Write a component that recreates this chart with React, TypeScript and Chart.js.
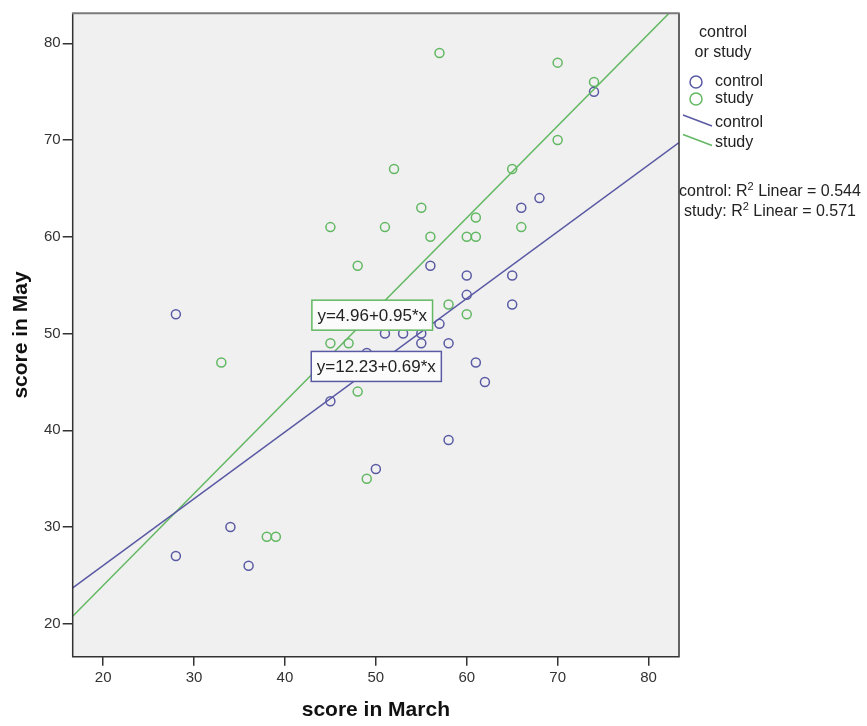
import React, { useEffect, useRef } from "react";
import { Chart, registerables } from "chart.js";

Chart.register(...registerables);

// ---- data ----
const groups = ["control", "study"];
const legendTitle = ["control", "or study"];
const controlMarch = [28, 28, 34, 36, 45, 49, 50, 51, 53, 55, 55, 56, 57, 58, 58, 60, 60, 61, 62, 65, 65, 66, 68, 74];
const controlMay = [52, 27, 30, 26, 43, 48, 36, 50, 50, 50, 49, 57, 51, 49, 39, 56, 54, 47, 45, 56, 53, 63, 64, 75];
const studyMarch = [33, 38, 39, 45, 45, 47, 48, 48, 49, 51, 52, 55, 56, 57, 58, 60, 60, 61, 61, 65, 66, 70, 70, 74];
const studyMay = [47, 29, 29, 61, 49, 49, 57, 44, 35, 61, 67, 63, 60, 79, 53, 60, 52, 62, 60, 67, 61, 78, 70, 76];
const intercepts = [12.23, 4.96];
const slopes = [0.69, 0.95];
const rSquared = ["0.544", "0.571"];
const xTicks = [20, 30, 40, 50, 60, 70, 80];
const yTicks = [20, 30, 40, 50, 60, 70, 80];
const xRange = [16.65, 83.35];
const yRange = [16.6, 83.1];
const xTitle = "score in March";
const yTitle = "score in May";

const BLUE = "#5a5aa4";
const GREEN = "#62b862";
const colors = [BLUE, GREEN];
const FONT = '"Liberation Sans", Arial, sans-serif';

const fitLine = (i: number) =>
  xRange.map((x) => ({ x, y: intercepts[i] + slopes[i] * x }));

const decor = {
  id: "decor",
  beforeDraw(chart: any) {
    const { ctx, chartArea: a } = chart;
    ctx.save();
    ctx.fillStyle = "#f0f0f0";
    ctx.fillRect(a.left, a.top, a.right - a.left, a.bottom - a.top);
    ctx.restore();
  },
  afterDatasetsDraw(chart: any) {
    const { ctx, chartArea: a, scales } = chart;
    const xs = scales.x;
    const ys = scales.y;
    ctx.save();
    // equation boxes
    const anchors = [
      { x: 50.05, y: 46.6 },
      { x: 49.6, y: 51.9 },
    ];
    ctx.font = `17px ${FONT}`;
    ctx.textBaseline = "middle";
    ctx.textAlign = "center";
    [1, 0].forEach((i) => {
      const txt = `y=${intercepts[i]}+${slopes[i]}*x`;
      const w = ctx.measureText(txt).width + 11;
      const h = 30;
      const cx = xs.getPixelForValue(anchors[i].x);
      const cy = ys.getPixelForValue(anchors[i].y);
      ctx.fillStyle = "#fbfbfb";
      ctx.fillRect(cx - w / 2, cy - h / 2, w, h);
      ctx.strokeStyle = colors[i];
      ctx.lineWidth = 1.5;
      ctx.strokeRect(cx - w / 2, cy - h / 2, w, h);
      ctx.fillStyle = "#222";
      ctx.fillText(txt, cx, cy + 1);
    });
    // frame
    ctx.lineWidth = 1.5;
    ctx.strokeStyle = "#333";
    ctx.beginPath();
    ctx.moveTo(a.left, a.top);
    ctx.lineTo(a.left, a.bottom);
    ctx.lineTo(a.right, a.bottom);
    ctx.lineTo(a.right, a.top);
    ctx.stroke();
    ctx.strokeStyle = "#7a7a7a";
    ctx.lineWidth = 2;
    ctx.beginPath();
    ctx.moveTo(a.left - 0.75, a.top);
    ctx.lineTo(a.right + 0.75, a.top);
    ctx.stroke();

    // legend
    const L = a.right;
    ctx.fillStyle = "#222";
    ctx.font = `16px ${FONT}`;
    ctx.textAlign = "center";
    ctx.fillText(legendTitle[0], L + 44, 33);
    ctx.fillText(legendTitle[1], L + 44, 53);
    ctx.textAlign = "left";
    groups.forEach((g, i) => {
      const y = 82 + i * 17;
      ctx.strokeStyle = colors[i];
      ctx.lineWidth = 1.5;
      ctx.beginPath();
      ctx.arc(L + 17, y, 6, 0, Math.PI * 2);
      ctx.stroke();
      ctx.fillStyle = "#222";
      ctx.fillText(g, L + 36, y);
    });
    groups.forEach((g, i) => {
      const y = 123 + i * 19.5;
      ctx.strokeStyle = colors[i];
      ctx.lineWidth = 1.5;
      ctx.beginPath();
      ctx.moveTo(L + 4, y - 8);
      ctx.lineTo(L + 33, y + 3);
      ctx.stroke();
      ctx.fillStyle = "#222";
      ctx.fillText(g, L + 36, y);
    });
    // R squared
    groups.forEach((g, i) => {
      const y = 192 + i * 20;
      const p1 = `${g}: R`;
      const p3 = ` Linear = ${rSquared[i]}`;
      ctx.font = `16px ${FONT}`;
      const w1 = ctx.measureText(p1).width;
      const w3 = ctx.measureText(p3).width;
      ctx.font = `11px ${FONT}`;
      const w2 = ctx.measureText("2").width;
      const total = w1 + w2 + w3;
      let x = L + 91 - total / 2;
      ctx.font = `16px ${FONT}`;
      ctx.fillText(p1, x, y);
      x += w1;
      ctx.font = `11px ${FONT}`;
      ctx.fillText("2", x, y - 5);
      x += w2;
      ctx.font = `16px ${FONT}`;
      ctx.fillText(p3, x, y);
    });
    ctx.restore();
  },
};

export default function App() {
  const ref = useRef<HTMLCanvasElement | null>(null);
  useEffect(() => {
    if (!ref.current) return;
    const tickFont = { family: FONT, size: 15 };
    const chart = new Chart(ref.current, {
      type: "scatter",
      data: {
        datasets: [
          {
            label: groups[0],
            data: controlMarch.map((x, i) => ({ x, y: controlMay[i] })),
            borderColor: BLUE,
            backgroundColor: "transparent",
            pointRadius: 4.5,
            pointBorderWidth: 1.5,
            order: 2,
          },
          {
            label: groups[1],
            data: studyMarch.map((x, i) => ({ x, y: studyMay[i] })),
            borderColor: GREEN,
            backgroundColor: "transparent",
            pointRadius: 4.5,
            pointBorderWidth: 1.5,
            order: 2,
          },
          {
            type: "line",
            label: groups[0] + " fit",
            data: fitLine(0),
            borderColor: BLUE,
            borderWidth: 1.5,
            pointRadius: 0,
            showLine: true,
            order: 1,
          } as any,
          {
            type: "line",
            label: groups[1] + " fit",
            data: fitLine(1),
            borderColor: GREEN,
            borderWidth: 1.5,
            pointRadius: 0,
            showLine: true,
            order: 1,
          } as any,
        ],
      },
      options: {
        animation: false,
        responsive: false,
        layout: { padding: { top: 13.3, right: 188, left: 0, bottom: 0 } },
        plugins: { legend: { display: false }, tooltip: { enabled: false } },
        scales: {
          x: {
            type: "linear",
            min: xRange[0],
            max: xRange[1],
            afterBuildTicks: (s: any) => {
              s.ticks = xTicks.map((v) => ({ value: v }));
            },
            afterFit: (s: any) => {
              s.height = 69.3;
            },
            grid: {
              drawOnChartArea: false,
              drawTicks: true,
              tickLength: 9,
              color: "#333",
              lineWidth: 1.5,
            },
            border: { display: false },
            ticks: { font: tickFont, color: "#333", padding: 3, maxRotation: 0 },
            title: {
              display: true,
              text: xTitle,
              font: { family: FONT, size: 21, weight: "bold" },
              color: "#111",
              padding: { top: 0, bottom: 3 },
            },
          },
          y: {
            type: "linear",
            min: yRange[0],
            max: yRange[1],
            afterBuildTicks: (s: any) => {
              s.ticks = yTicks.map((v) => ({ value: v }));
            },
            afterFit: (s: any) => {
              s.width = 72.7;
            },
            grid: {
              drawOnChartArea: false,
              drawTicks: true,
              tickLength: 10,
              color: "#333",
              lineWidth: 1.5,
            },
            border: { display: false },
            ticks: { font: tickFont, color: "#333", padding: 2 },
            title: {
              display: true,
              text: yTitle,
              font: { family: FONT, size: 21, weight: "bold" },
              color: "#111",
              padding: { top: 9, bottom: 0 },
            },
          },
        },
      },
      plugins: [decor],
    });
    return () => chart.destroy();
  }, []);
  return (
    <div style={{ position: "absolute", left: 0, top: 0, width: 867, height: 726, background: "#fff" }}>
      <canvas ref={ref} width={867} height={726} style={{ display: "block" }} />
    </div>
  );
}
